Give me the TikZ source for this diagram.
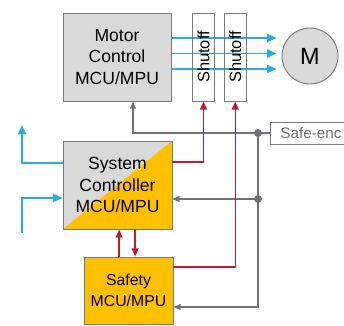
\documentclass[tikz,border=0pt]{standalone}
\usepackage{fontspec}
\setmainfont{Liberation Sans}
\usetikzlibrary{arrows.meta, backgrounds}
\definecolor{boxGray}{RGB}{217, 217, 217}
\definecolor{borderGray}{RGB}{120, 120, 122}
\definecolor{lineGray}{RGB}{112, 113, 116}
\definecolor{safetyOrange}{RGB}{255, 192, 0}
\definecolor{signalBlue}{RGB}{41, 171, 226}
\definecolor{stopRed}{RGB}{190, 30, 45}

\begin{document}
\begin{tikzpicture}[
    x=0.03cm, y=-0.03cm,
    mcu/.style={
        rectangle,
        minimum width=3.24cm,
        minimum height=2.64cm,
        align=center,
        font=\fontsize{15}{18.5}\selectfont,
        draw=borderGray,
        line width=0.8pt,
        fill=boxGray
    },
    shutoff/.style={
        rectangle,
        minimum width=0.65cm,
        minimum height=2.64cm,
        draw=borderGray,
        line width=0.8pt,
        font=\fontsize{14}{15}\selectfont
    },
    bluearrow/.style={
        -{Triangle[length=8pt, width=7pt]},
        line width=1.3pt,
        color=signalBlue
    },
    redarrow/.style={
        -{Triangle[length=7pt, width=6pt]},
        line width=1.2pt,
        color=stopRed
    },
    grayarrow/.style={
        -{Triangle[length=6pt, width=5pt]},
        line width=1pt,
        color=lineGray
    },
    junction/.style={
        circle,
        fill=lineGray,
        inner sep=0pt,
        minimum size=0.24cm
    }
]
\useasboundingbox (0,0) rectangle (344,325);
\clip (0,0) rectangle (344,325);

% Controllers
\node[mcu] (motor) at (117,57) {Motor\\Control\\MCU/MPU};
\node[mcu, minimum width=3.27cm,
    path picture={\fill[safetyOrange] (path picture bounding box.south west)
        -- (path picture bounding box.south east)
        -- (path picture bounding box.north east) -- cycle;}]
    (sysctl) at (117.5,185) {System\\Controller\\MCU/MPU};
\node[mcu, minimum width=2.67cm, minimum height=2.01cm, fill=safetyOrange,
    font=\fontsize{13.5}{18.5}\selectfont] (safety) at (128.5,290.5) {Safety\\MCU/MPU};

% Shutoff stages and motor
\node[shutoff] (shut1) at (203.5,57) {\rotatebox{90}{Shutoff}};
\node[shutoff] (shut2) at (235.2,57) {\rotatebox{90}{Shutoff}};
\node[circle, draw=borderGray, line width=0.8pt, fill=boxGray, minimum size=1.68cm,
    inner sep=0pt, font=\fontsize{20}{20}\selectfont] (motorM) at (310,56) {M};

% Encoder input
\node[rectangle, anchor=west, draw=borderGray, line width=0.8pt, minimum height=0.66cm,
    inner xsep=0.3cm, text=lineGray, font=\fontsize{13}{15}\selectfont] (enc) at (270,133) {Safe-enc};

% Free ends and junctions
\coordinate (j1) at (258,133);
\coordinate (j2) at (258,199);
\coordinate (j3) at (258,307);
\coordinate (outA) at (22,125);
\coordinate (inB) at (22,233);

% Drive signals
\begin{scope}[on background layer]
\foreach \y in {38,53.5,69}
    \draw[bluearrow, shorten >=0.15cm] (motor.east |- 0,\y) -- (motorM.west |- 0,\y);
\end{scope}

% Host interface
\draw[bluearrow] ([yshift=0.66cm]sysctl.west) -| (outA);
\draw[bluearrow] (inB) |- ([yshift=-0.39cm]sysctl.west);

% Encoder feedback
\draw[grayarrow] (enc.west) -| ([xshift=0.48cm]motor.south);
\draw[grayarrow] (j1) |- ([yshift=-0.495cm]safety.east);
\draw[grayarrow] (j2) -- (sysctl.east |- j2);
\node[junction] (d1) at (j1) {};
\node[junction] (d2) at (j2) {};

% Shutoff commands
\draw[redarrow] ([yshift=0.69cm]sysctl.east) -| (shut1.south);
\draw[redarrow] ([yshift=0.7cm]safety.east) -| (shut2.south);
\draw[redarrow] ([xshift=-0.28cm]safety.north) -- ([xshift=-0.28cm]safety.north |- sysctl.south);
\draw[redarrow] ([xshift=0.2cm]safety.north |- sysctl.south) -- ([xshift=0.2cm]safety.north);

\end{tikzpicture}
\end{document}
